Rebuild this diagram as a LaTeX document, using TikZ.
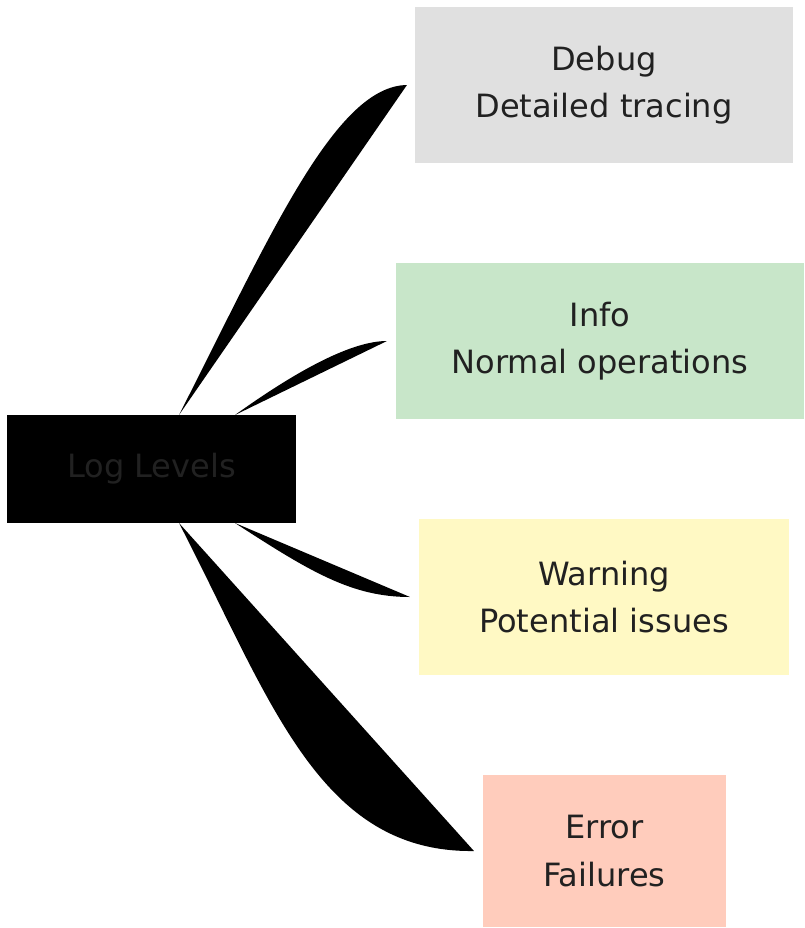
\documentclass[tikz,border=0pt]{standalone}
\usepackage{fontspec}
\setmainfont{DejaVu Sans}
\usetikzlibrary{calc}
\definecolor{debugfill}{HTML}{E0E0E0}
\definecolor{infofill}{HTML}{C8E6C9}
\definecolor{warnfill}{HTML}{FFF9C4}
\definecolor{errorfill}{HTML}{FFCCBC}
\definecolor{labeltext}{HTML}{212121}
\begin{document}
\begin{tikzpicture}[x=0.025cm, y=-0.025cm,
  levelbox/.style={inner sep=0pt, outer sep=0pt, align=center, text=labeltext,
    font=\fontsize{22.8}{33.6}\selectfont, minimum height=3.9cm}]
\useasboundingbox (0,0) rectangle (804,928);
\node[levelbox, fill=black, minimum width=7.225cm, minimum height=2.7cm] (root) at (151.5,469) {Log Levels};
\node[levelbox, fill=debugfill, minimum width=9.45cm] (debug) at (604,85) {Debug\\Detailed tracing};
\node[levelbox, fill=infofill, minimum width=10.2cm] (info) at (600,341) {Info\\Normal operations};
\node[levelbox, fill=warnfill, minimum width=9.25cm] (warning) at (604,597) {Warning\\Potential issues};
\node[levelbox, fill=errorfill, minimum width=6.075cm, minimum height=3.8cm] (error) at (604.5,851) {Error\\Failures};
\fill ($(root.north)+(27.5,0)$) .. controls (270,236) and (335,86) .. ($(debug.west)+(-8,0)$) -- cycle;
\fill ($(root.north)+(83.5,0)$) .. controls (300.5,368) and (353,341) .. ($(info.west)+(-9,0)$) -- cycle;
\fill ($(root.south)+(83.5,0)$) .. controls (310.5,572) and (352,597) .. ($(warning.west)+(-9,0)$) -- cycle;
\fill ($(root.south)+(27.5,0)$) .. controls (271,701) and (319,853) .. ($(error.west)+(-9,0)$) -- cycle;
\end{tikzpicture}
\end{document}
